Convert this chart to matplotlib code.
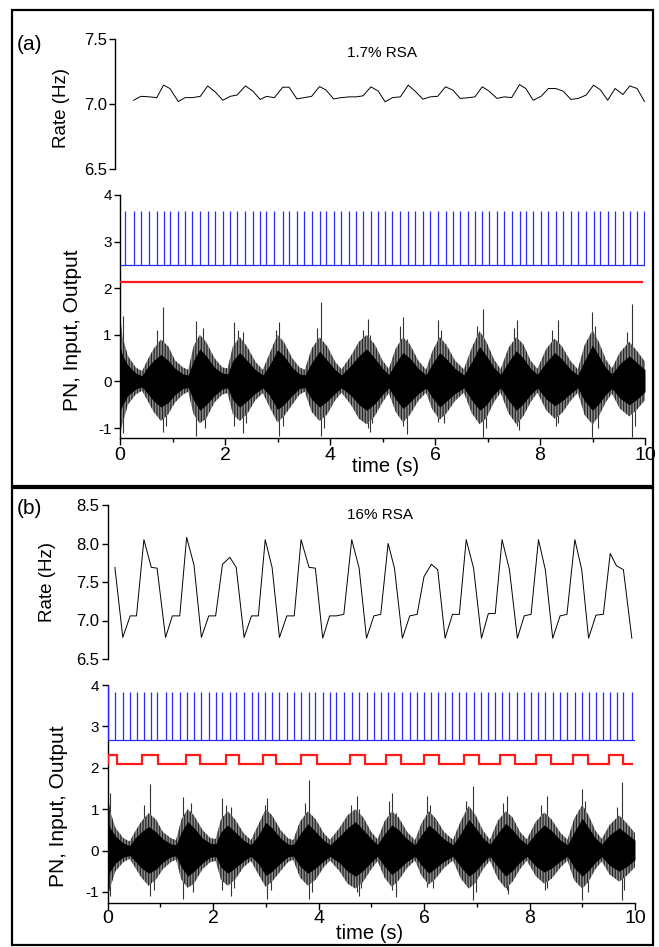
import numpy as np
import matplotlib.pyplot as plt
from matplotlib import font_manager as fm
from matplotlib.patches import Rectangle
from matplotlib.ticker import MultipleLocator

# ---- instantaneous rate, panel (a): 1.7% RSA
rate_t_a = [0.26, 0.40, 0.56, 0.70, 0.83, 0.95, 1.11, 1.24, 1.38, 1.53,
            1.67, 1.81, 1.96, 2.10, 2.23, 2.39, 2.53, 2.67, 2.79, 2.94,
            3.10, 3.22, 3.37, 3.51, 3.65, 3.80, 3.92, 4.07, 4.21, 4.37,
            4.50, 4.63, 4.78, 4.92, 5.05, 5.19, 5.34, 5.49, 5.62, 5.77,
            5.91, 6.05, 6.20, 6.34, 6.48, 6.62, 6.76, 6.90, 7.03, 7.18,
            7.32, 7.46, 7.61, 7.73, 7.87, 8.02, 8.16, 8.30, 8.44, 8.59,
            8.73, 8.88, 9.02, 9.15, 9.29, 9.43, 9.58, 9.71, 9.85, 9.99]
rate_a = [7.03, 7.06, 7.056, 7.05, 7.146, 7.12, 7.02, 7.05, 7.05, 7.06,
          7.14, 7.095, 7.03, 7.06, 7.07, 7.14, 7.10, 7.036, 7.06, 7.05,
          7.13, 7.13, 7.04, 7.05, 7.06, 7.135, 7.11, 7.04, 7.05, 7.056,
          7.056, 7.064, 7.133, 7.10, 7.018, 7.05, 7.056, 7.146, 7.10, 7.038,
          7.056, 7.06, 7.133, 7.108, 7.044, 7.049, 7.056, 7.133, 7.10, 7.044,
          7.056, 7.05, 7.15, 7.12, 7.03, 7.06, 7.12, 7.12, 7.10, 7.036,
          7.044, 7.07, 7.146, 7.11, 7.03, 7.12, 7.074, 7.14, 7.12, 7.02]

# ---- instantaneous rate, panel (b): 16% RSA
rate_t_b = [0.14, 0.29, 0.43, 0.55, 0.69, 0.83, 0.94, 1.10, 1.23, 1.37,
            1.50, 1.64, 1.78, 1.92, 2.05, 2.18, 2.32, 2.44, 2.59, 2.73,
            2.86, 2.99, 3.12, 3.26, 3.40, 3.54, 3.67, 3.82, 3.94, 4.08,
            4.21, 4.34, 4.48, 4.63, 4.77, 4.91, 5.05, 5.18, 5.32, 5.44,
            5.59, 5.73, 5.87, 6.00, 6.14, 6.26, 6.40, 6.54, 6.67, 6.80,
            6.94, 7.09, 7.22, 7.35, 7.48, 7.62, 7.77, 7.90, 8.03, 8.17,
            8.30, 8.44, 8.58, 8.71, 8.86, 8.99, 9.12, 9.26, 9.40, 9.53,
            9.65, 9.78, 9.94]
rate_b = [7.69, 6.78, 7.06, 7.06, 8.05, 7.69, 7.68, 6.78, 7.06, 7.06,
          8.08, 7.72, 6.78, 7.06, 7.06, 7.73, 7.82, 7.69, 6.78, 7.06,
          7.06, 8.05, 7.69, 6.78, 7.06, 7.06, 8.05, 7.69, 7.68, 6.77,
          7.06, 7.06, 7.08, 8.05, 7.68, 6.77, 7.06, 7.08, 8.00, 7.68,
          6.77, 7.06, 7.08, 7.57, 7.73, 7.66, 6.77, 7.08, 7.08, 8.05,
          7.68, 6.77, 7.09, 7.09, 8.05, 7.66, 6.77, 7.06, 7.08, 8.05,
          7.66, 6.77, 7.06, 7.08, 8.05, 7.66, 6.77, 7.07, 7.08, 7.87,
          7.71, 7.66, 6.77]

# ---- output spikes (blue)
spike_t_a = [0.10] + rate_t_a
spike_top_a = [3.65] * len(spike_t_a)
spike_base_a = 2.5
spike_t_b = [0.01] + rate_t_b
spike_top_b = [4.0] + [3.82] * len(rate_t_b)
spike_base_b = 2.68

# ---- input (red): inspiratory on/off times and levels
insp_on = [0.00, 0.65, 1.49, 2.25, 2.95, 3.67, 4.60, 5.28, 6.00, 6.76, 7.44, 8.13, 8.82, 9.50]
insp_off = [0.18, 0.95, 1.75, 2.50, 3.20, 3.97, 4.88, 5.56, 6.28, 7.04, 7.72, 8.41, 9.10, 9.78]
red_lo_a, red_hi_a = 2.125, 2.14
red_lo_b, red_hi_b = 2.08, 2.32

# ---- phrenic nerve (PN) envelope, same recording in both panels
pn_t = [0.00, 0.05, 0.15, 0.30, 0.42, 0.52, 0.64, 0.78, 0.92, 1.05,
        1.20, 1.30, 1.40, 1.52, 1.64, 1.80, 1.95, 2.05, 2.15, 2.28,
        2.42, 2.58, 2.72, 2.85, 3.00, 3.12, 3.28, 3.42, 3.52, 3.65,
        3.80, 3.95, 4.10, 4.22, 4.40, 4.55, 4.70, 4.85, 5.00, 5.12,
        5.25, 5.39, 5.52, 5.68, 5.83, 5.95, 6.09, 6.22, 6.38, 6.55,
        6.70, 6.85, 6.98, 7.12, 7.25, 7.40, 7.55, 7.68, 7.82, 7.95,
        8.12, 8.28, 8.42, 8.58, 8.72, 8.85, 9.00, 9.12, 9.25, 9.37,
        9.52, 9.70, 9.85, 10.0]
pn_core_hi = [0.75, 0.55, 0.35, 0.18, 0.12, 0.30, 0.45, 0.58, 0.45, 0.28,
              0.16, 0.14, 0.45, 0.70, 0.55, 0.30, 0.18, 0.16, 0.45, 0.62,
              0.45, 0.25, 0.14, 0.35, 0.68, 0.55, 0.30, 0.16, 0.14, 0.40,
              0.65, 0.45, 0.25, 0.14, 0.35, 0.55, 0.70, 0.50, 0.28, 0.15,
              0.40, 0.62, 0.50, 0.28, 0.14, 0.38, 0.62, 0.48, 0.28, 0.14,
              0.42, 0.75, 0.55, 0.30, 0.15, 0.42, 0.66, 0.50, 0.28, 0.15,
              0.42, 0.62, 0.48, 0.26, 0.14, 0.45, 0.78, 0.55, 0.30, 0.16,
              0.38, 0.55, 0.40, 0.25]
pn_core_lo = [-0.65, -0.50, -0.30, -0.16, -0.12, -0.25, -0.42, -0.55, -0.45, -0.28,
              -0.15, -0.13, -0.40, -0.62, -0.50, -0.30, -0.16, -0.14, -0.40, -0.55,
              -0.42, -0.25, -0.14, -0.30, -0.60, -0.50, -0.30, -0.15, -0.13, -0.38,
              -0.55, -0.42, -0.25, -0.14, -0.30, -0.50, -0.62, -0.48, -0.28, -0.14,
              -0.38, -0.58, -0.45, -0.26, -0.14, -0.35, -0.55, -0.42, -0.26, -0.14,
              -0.40, -0.62, -0.50, -0.28, -0.14, -0.40, -0.62, -0.48, -0.28, -0.14,
              -0.38, -0.52, -0.42, -0.26, -0.14, -0.42, -0.62, -0.48, -0.28, -0.15,
              -0.36, -0.50, -0.38, -0.22]
pn_out_hi = [1.40, 0.95, 0.55, 0.30, 0.22, 0.45, 0.70, 0.90, 0.75, 0.45,
             0.30, 0.25, 0.75, 1.00, 0.85, 0.50, 0.30, 0.28, 0.75, 0.95,
             0.75, 0.42, 0.25, 0.60, 1.00, 0.85, 0.50, 0.30, 0.25, 0.70,
             0.95, 0.75, 0.42, 0.26, 0.55, 0.85, 1.00, 0.80, 0.45, 0.27,
             0.70, 0.95, 0.80, 0.45, 0.25, 0.65, 0.95, 0.78, 0.45, 0.26,
             0.72, 1.08, 0.85, 0.48, 0.26, 0.72, 0.95, 0.80, 0.45, 0.27,
             0.70, 0.92, 0.75, 0.44, 0.26, 0.78, 1.10, 0.85, 0.48, 0.28,
             0.62, 0.85, 0.65, 0.42]
pn_out_lo = [-1.10, -0.90, -0.50, -0.28, -0.20, -0.40, -0.65, -0.85, -0.70, -0.45,
             -0.28, -0.22, -0.70, -0.90, -0.80, -0.45, -0.28, -0.25, -0.70, -0.85,
             -0.70, -0.40, -0.25, -0.55, -0.88, -0.75, -0.50, -0.28, -0.22, -0.65,
             -0.85, -0.70, -0.40, -0.24, -0.50, -0.80, -0.92, -0.75, -0.45, -0.25,
             -0.65, -0.88, -0.72, -0.42, -0.24, -0.60, -0.82, -0.68, -0.42, -0.24,
             -0.68, -0.92, -0.78, -0.45, -0.24, -0.68, -0.92, -0.75, -0.45, -0.24,
             -0.62, -0.80, -0.68, -0.42, -0.24, -0.72, -0.92, -0.75, -0.45, -0.26,
             -0.58, -0.75, -0.60, -0.40]
# isolated large deflections of the PN trace
pn_spk_t = [0.05, 0.70, 0.81, 0.88, 1.44, 1.58, 1.62, 2.18, 2.25, 2.35,
            2.40, 2.98, 3.03, 3.10, 3.75, 3.82, 3.88, 4.62, 4.73, 4.76,
            4.80, 5.33, 5.39, 5.46, 6.05, 6.12, 6.18, 6.80, 6.92, 6.98,
            7.50, 7.57, 7.60, 8.22, 8.30, 8.34, 8.99, 9.05, 9.10, 9.65,
            9.75, 9.80]
pn_spk_hi = [1.40, 1.10, 1.60, 0.0, 1.30, 1.15, 0.0, 1.27, 1.10, 1.05,
             0.0, 1.10, 1.27, 0.0, 1.15, 1.70, 0.0, 1.10, 1.33, 1.00,
             0.0, 1.20, 1.38, 0.90, 1.31, 1.10, 0.0, 1.20, 1.56, 0.0,
             1.15, 1.31, 0.0, 1.10, 0.0, 1.31, 1.49, 1.20, 0.0, 1.05,
             1.66, 0.0]
pn_spk_lo = [-1.10, 0.0, -1.09, -0.95, -1.16, 0.0, -1.00, -0.95, 0.0, -1.10,
             -0.90, 0.0, -1.16, -0.95, 0.0, -1.16, -1.00, 0.0, -1.00, -1.09,
             -0.90, 0.0, -0.95, -1.12, -0.87, 0.0, -0.90, 0.0, -1.19, -1.00,
             0.0, -0.95, -1.05, 0.0, -0.95, -0.90, -1.19, 0.0, -1.00, 0.0,
             -1.19, -0.95]

names = {f.name for f in fm.fontManager.ttflist}
base_font = 'Liberation Sans'
narrow_font = 'Liberation Sans Narrow' if 'Liberation Sans Narrow' in names else base_font
plt.rcParams['font.family'] = base_font
plt.rcParams['hatch.linewidth'] = 0.9
plt.rcParams['hatch.color'] = '0.15'

W, H = 659, 947
fig = plt.figure(figsize=(W / 100, H / 100), dpi=100)


def fx(px):
    return px / W


def fy(py):
    return 1 - py / H


def box(ax_l, ax_r, top, bottom):
    return [fx(ax_l), fy(bottom), fx(ax_r - ax_l), (bottom - top) / H]


BLUE = '#2a2aff'
RED = '#ff1a1a'


def style_lower(ax, ymin):
    for s in ['top', 'right']:
        ax.spines[s].set_visible(False)
    for s in ['left', 'bottom']:
        ax.spines[s].set_linewidth(1.0)
    ax.set_xlim(0, 10)
    ax.set_ylim(ymin, 4.0)
    ax.set_yticks([-1, 0, 1, 2, 3, 4])
    ax.set_yticklabels(['-1', '0', '1', '2', '3', '4'], fontsize=11)
    ax.xaxis.set_major_locator(MultipleLocator(2))
    ax.xaxis.set_minor_locator(MultipleLocator(1))
    ax.set_xticklabels([])
    ax.tick_params(axis='y', direction='out', length=4, width=1.0, pad=2)
    ax.tick_params(axis='x', which='major', direction='out', length=5, width=1.0)
    ax.tick_params(axis='x', which='minor', direction='out', length=3, width=1.0)
    for v in range(0, 11, 2):
        ax.text(v, -0.035, str(v), transform=ax.get_xaxis_transform(),
                ha='center', va='top', fontsize=14, family=[narrow_font, base_font])


def style_rate(ax, lo, hi, ticks, offset):
    for s in ['top', 'right', 'bottom']:
        ax.spines[s].set_visible(False)
    ax.spines['left'].set_linewidth(1.0)
    ax.spines['left'].set_position(('outward', offset))
    ax.set_xlim(0, 10)
    ax.set_ylim(lo, hi)
    ax.set_xticks([])
    ax.set_yticks(ticks)
    ax.set_yticklabels([f'{t:.1f}' for t in ticks], fontsize=12)
    ax.tick_params(axis='y', direction='out', length=4, width=1.0, pad=2)
    ax.patch.set_alpha(0)


def square(on, off, lo, hi, t_end):
    xs, ys = [], []
    for a, b in zip(on, off):
        xs += [a, a, b, b]
        ys += [lo, hi, hi, lo]
    xs.append(t_end)
    ys.append(lo)
    return xs, ys


def draw_lower(ax, spike_t, spike_top, spike_base, red_lo, red_hi):
    ax.vlines(pn_spk_t, pn_spk_lo, pn_spk_hi, color='0.2', lw=0.8, zorder=1)
    ax.fill_between(pn_t, pn_out_lo, pn_out_hi, facecolor='0.55', edgecolor='0.15',
                    hatch='||||||', lw=0, zorder=2)
    ax.fill_between(pn_t, pn_core_lo, pn_core_hi, color='black', lw=0, zorder=3)
    xs, ys = square(insp_on, insp_off, red_lo, red_hi, 9.95)
    ax.plot(xs, ys, color=RED, lw=1.6, solid_joinstyle='miter', zorder=4)
    ax.hlines(spike_base, 0, 10, color=BLUE, lw=0.9, zorder=4)
    ax.vlines(spike_t, spike_base, spike_top, color=BLUE, lw=0.9, zorder=4)


# ---------- panel (a)
ax_ra = fig.add_axes(box(120, 645, 39, 169.3))
ax_ra.plot(rate_t_a, rate_a, color='black', lw=0.7)
style_rate(ax_ra, 6.5, 7.5, [6.5, 7.0, 7.5], 3.6)

ax_la = fig.add_axes(box(120, 645, 195, 438.3))
draw_lower(ax_la, spike_t_a, spike_top_a, spike_base_a, red_lo_a, red_hi_a)
style_lower(ax_la, -1.22)

# ---------- panel (b)
ax_rb = fig.add_axes(box(107.5, 635, 505, 659))
ax_rb.plot(rate_t_b, rate_b, color='black', lw=0.7)
style_rate(ax_rb, 6.5, 8.5, [6.5, 7.0, 7.5, 8.0, 8.5], 0)

ax_lb = fig.add_axes(box(107.5, 635, 685, 902.7))
draw_lower(ax_lb, spike_t_b, spike_top_b, spike_base_b, red_lo_b, red_hi_b)
style_lower(ax_lb, -1.26)

# ---------- labels and frames
fig.text(fx(17), fy(44), '(a)', fontsize=15, ha='left', va='center')
fig.text(fx(17), fy(508), '(b)', fontsize=15, ha='left', va='center')
fig.text(fx(347), fy(53), '1.7% RSA', fontsize=11, ha='left', va='center')
fig.text(fx(347), fy(515), '16% RSA', fontsize=11, ha='left', va='center')
fig.text(fx(62), fy(108), 'Rate (Hz)', fontsize=13.5, rotation=90, ha='center', va='center')
fig.text(fx(47), fy(582), 'Rate (Hz)', fontsize=13.5, rotation=90, ha='center', va='center')
fig.text(fx(72), fy(330), 'PN, Input, Output', fontsize=15, rotation=90, ha='center', va='center')
fig.text(fx(59), fy(806), 'PN, Input, Output', fontsize=15, rotation=90, ha='center', va='center')
fig.text(fx(386), fy(467), 'time (s)', fontsize=14.5, ha='center', va='center',
         family=[narrow_font, base_font])
fig.text(fx(370), fy(933), 'time (s)', fontsize=14.5, ha='center', va='center',
         family=[narrow_font, base_font])

for top, bottom in [(10, 486), (488, 945)]:
    fig.patches.append(Rectangle((fx(11.5), fy(bottom)), fx(652.5 - 11.5), (bottom - top) / H,
                                 transform=fig.transFigure, fill=False,
                                 edgecolor='black', lw=1.6))

fig.savefig('out.png', dpi=100)
